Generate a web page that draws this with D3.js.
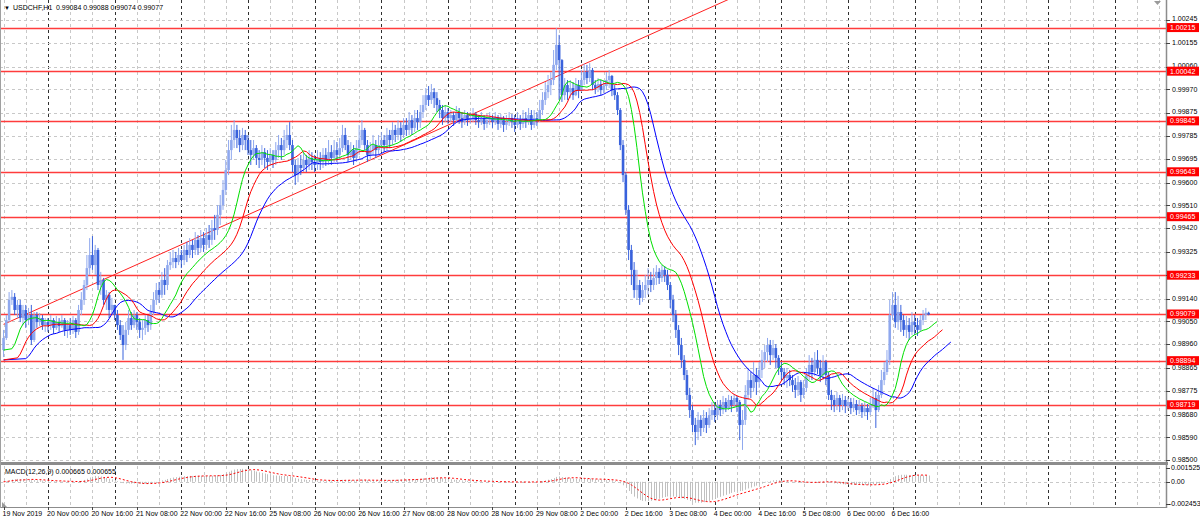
<!DOCTYPE html>
<html><head><meta charset="utf-8">
<script src="https://cdn.jsdelivr.net/npm/d3@7"></script>
<style>body{margin:0;background:#fff;} svg{display:block;font-family:"Liberation Sans",Arial,sans-serif;}</style>
</head><body><svg id="c" width="1200" height="523"></svg>
<script>
// ---- DATA (prices in units of 0.00001), hourly bars from 19 Nov 2019 08:00 to 9 Dec 05:00 ----
const symbolTitle = "USDCHF,H1";
const titleValues = "0.99084 0.99088 0.99074 0.99077";
const macdTitle = "MACD(12,26,9) 0.000665 0.000655";
const firstOpen = 98936;
const closes = [
98984,99055,99135,99147,99095,99115,99063,99095,99055,99075,98976,99075,99047,99063,99035,99047,
99035,99055,99024,99047,99031,99055,99016,99035,99016,99055,99008,99095,99135,99194,99261,99313,99273,99333,99194,99214,99135,99155,99095,99115,
99075,99035,98996,98956,99016,99063,99035,99075,99047,99016,99024,99055,99035,99087,99135,99174,99155,99214,99194,99273,99285,99301,99285,99313,
99293,99333,99313,99353,99333,99373,99341,99380,99353,99392,99373,99420,99412,99472,99511,99571,99650,99729,99769,99809,99777,99749,99789,99769,
99729,99710,99737,99698,99690,99721,99698,99682,99710,99690,99729,99749,99729,99769,99789,99749,99670,99630,99670,99658,99690,99670,99698,99682,
99670,99698,99682,99710,99690,99721,99698,99729,99710,99737,99789,99749,99710,99729,99698,99737,99769,99809,99749,99710,99729,99749,99729,99749,
99769,99749,99789,99769,99809,99789,99817,99789,99829,99809,99848,99817,99856,99840,99880,99908,99947,99928,99959,99935,99908,99888,99856,99880,
99856,99868,99848,99880,99856,99840,99868,99848,99856,99872,99848,99840,99856,99833,99848,99856,99840,99856,99833,99848,99829,99840,99856,99840,
99829,99848,99833,99856,99840,99868,99829,99856,99848,99888,99928,99959,99987,100007,100067,100146,100086,99947,99987,99959,99975,99947,99987,99967,
100007,100039,100015,100047,99987,99975,99991,99967,99983,100007,100023,99967,99947,99888,99749,99630,99492,99333,99254,99174,99194,99143,99174,99194,
99214,99194,99222,99246,99222,99254,99234,99194,99135,99075,99016,98956,98897,98837,98758,98698,98639,98611,98659,98627,98667,98639,98678,98698,
98678,98718,98698,98730,98706,98738,98718,98746,98730,98639,98659,98758,98817,98786,98837,98809,98857,98897,98928,98956,98916,98944,98905,98865,
98849,98825,98837,98817,98797,98778,98809,98758,98786,98837,98877,98849,98897,98865,98837,98889,98837,98758,98738,98718,98746,98718,98738,98714,
98730,98706,98722,98698,98714,98690,98706,98690,98718,98746,98698,98758,98817,98849,98897,99075,99115,99047,99087,99055,99016,99035,99008,99047,
99035,99016,99055,99075,99084,99077
];
const highs = [
99016,99075,99166,99174,99162,99135,99135,99115,99115,99103,99115,99087,99087,99083,99075,99063,
99063,99075,99063,99071,99063,99075,99063,99055,99063,99071,99063,99115,99166,99214,99313,99380,99388,99353,99341,99246,99222,99174,99166,99143,
99115,99095,99055,99035,99047,99095,99087,99095,99087,99063,99055,99075,99075,99115,99166,99202,99206,99246,99261,99293,99325,99333,99325,99341,
99333,99353,99365,99380,99373,99404,99392,99412,99404,99420,99432,99452,99472,99511,99551,99610,99690,99769,99829,99848,99829,99809,99817,99809,
99789,99769,99769,99749,99729,99749,99737,99729,99737,99729,99761,99789,99777,99809,99829,99840,99769,99690,99698,99710,99721,99710,99729,99721,
99710,99729,99721,99737,99737,99769,99749,99769,99761,99777,99829,99817,99769,99761,99749,99769,99829,99848,99817,99769,99761,99789,99769,99789,
99801,99789,99817,99809,99840,99829,99848,99840,99856,99856,99880,99868,99888,99888,99908,99947,99975,99983,99991,99975,99959,99928,99908,99908,
99896,99888,99880,99904,99896,99880,99888,99880,99880,99896,99880,99868,99880,99868,99872,99880,99868,99880,99868,99872,99864,99868,99880,99872,
99868,99880,99868,99888,99880,99896,99888,99888,99880,99928,99959,99999,100027,100039,100126,100213,100186,100090,100015,100007,100007,99999,100015,100007,
100047,100071,100067,100074,100055,100007,100015,100007,100007,100039,100047,100027,99987,99959,99896,99769,99642,99511,99353,99285,99254,99214,99206,99234,
99261,99246,99261,99273,99261,99273,99269,99254,99206,99155,99095,99035,98984,98916,98857,98786,98718,98667,98690,98678,98698,98690,98706,98730,
98730,98738,98738,98754,98746,98758,98754,98762,98754,98738,98698,98797,98865,98849,98889,98865,98889,98936,98956,98984,98976,98976,98960,98916,
98889,98865,98865,98857,98837,98825,98833,98817,98817,98865,98916,98905,98928,98936,98897,98916,98897,98849,98778,98758,98770,98758,98762,98754,
98750,98746,98746,98738,98738,98726,98730,98722,98746,98786,98770,98797,98857,98889,98936,99135,99166,99166,99151,99115,99075,99071,99063,99087,
99075,99063,99075,99095,99103,99088
];
const lows = [
98908,98976,99047,99115,99075,99063,99047,99035,99024,99035,98956,98968,99024,99031,99016,99008,
99008,99016,99000,99016,99008,99024,98992,98984,98996,99000,98984,98996,99075,99115,99174,99234,99254,99234,99174,99155,99115,99095,99063,99075,
99055,99016,98976,98897,98936,98996,99016,99024,99016,98984,98976,98996,99008,99016,99075,99115,99123,99143,99155,99174,99254,99261,99261,99273,
99261,99273,99285,99301,99301,99313,99313,99325,99325,99333,99341,99353,99373,99392,99432,99492,99551,99630,99690,99737,99737,99721,99729,99729,
99710,99670,99690,99670,99658,99670,99658,99650,99666,99658,99670,99698,99690,99710,99737,99729,99642,99591,99602,99630,99642,99642,99650,99650,
99642,99650,99650,99658,99666,99670,99670,99682,99682,99690,99721,99729,99682,99690,99670,99682,99710,99749,99729,99682,99690,99710,99698,99710,
99721,99721,99729,99737,99749,99761,99769,99761,99777,99785,99789,99789,99801,99809,99817,99856,99888,99904,99912,99896,99880,99856,99829,99840,
99833,99840,99825,99840,99833,99817,99829,99825,99833,99840,99829,99817,99829,99809,99817,99829,99817,99829,99809,99817,99801,99809,99825,99817,
99801,99817,99809,99817,99817,99829,99809,99817,99825,99840,99868,99908,99935,99947,99987,100047,99928,99920,99928,99928,99935,99928,99943,99935,
99959,99987,99991,99999,99967,99951,99959,99947,99955,99967,99975,99943,99928,99868,99729,99602,99472,99293,99194,99143,99135,99115,99127,99143,
99155,99166,99174,99194,99198,99206,99206,99174,99103,99047,98984,98916,98865,98817,98738,98667,98611,98559,98579,98595,98611,98607,98627,98659,
98651,98659,98674,98682,98690,98698,98690,98706,98690,98579,98540,98639,98738,98746,98770,98758,98786,98825,98865,98889,98877,98897,98865,98837,
98817,98797,98786,98793,98770,98746,98754,98730,98746,98770,98817,98817,98833,98841,98809,98817,98797,98738,98698,98690,98698,98690,98698,98686,
98698,98682,98690,98678,98682,98667,98674,98659,98678,98706,98627,98690,98746,98797,98837,98877,99055,99024,99016,99008,98992,98984,98976,98996,
98996,98992,99008,99035,99055,99074
];
const timeLabels = ["19 Nov 2019","20 Nov 00:00","20 Nov 16:00","21 Nov 08:00","22 Nov 00:00","22 Nov 16:00","25 Nov 08:00","26 Nov 00:00","26 Nov 16:00","27 Nov 08:00","28 Nov 00:00","28 Nov 16:00","29 Nov 08:00","2 Dec 00:00","2 Dec 16:00","3 Dec 08:00","4 Dec 00:00","4 Dec 16:00","5 Dec 08:00","6 Dec 00:00","6 Dec 16:00"];
const priceTicks = [0.98500,0.98590,0.98680,0.98775,0.98865,0.98960,0.99050,0.99140,0.99235,0.99325,0.99420,0.99510,0.99600,0.99695,0.99785,0.99875,0.99970,1.00060,1.00155,1.00245];
const levels = [1.00215,1.00042,0.99845,0.99643,0.99465,0.99233,0.99079,0.98894,0.98719];
const trendBars = [0, 258];
const trendPrices = [0.99038, 1.00312];
const macdTicks = [0.001525, 0.00, -0.002453];
const macdTickLabels = ["0.001525","0.00","-0.002453"];
// Alligator values at the left edge
const alligatorStart = {jaw: 0.98897, teeth: 0.98897, lips: 0.98936};

// ---- SETUP ----
const svg = d3.select('#c');
const PR = 1166, X0 = 3.55, DX = 2.778;
const n = closes.length;
const C = closes.map(v=>v/1e5), Hh = highs.map(v=>v/1e5), Ll = lows.map(v=>v/1e5);
const O = C.map((v,i)=> i===0 ? firstOpen/1e5 : C[i-1]);
const x = d3.scaleLinear().domain([0,1]).range([X0, X0+DX]);
const y = d3.scaleLinear().domain([0.985, 1.00245]).range([460, 20]);
const ym = d3.scaleLinear().domain([-0.002453, 0.001525]).range([504, 468]);

const defs = svg.append('defs');
defs.append('clipPath').attr('id','mainClip').append('rect').attr('x',0).attr('y',0).attr('width',PR).attr('height',461);
defs.append('clipPath').attr('id','macdClip').append('rect').attr('x',0).attr('y',466).attr('width',PR).attr('height',41);

// grid
const gGrid = svg.append('g');
const maxI = Math.floor((PR - X0)/DX);
for (let i=0; i<=maxI; i+=8) {
  const dark = ((i-16)%24===0);
  const xx = Math.round(x(i))+0.5;
  [[0,461],[466,507]].forEach(([a,b])=>{
    gGrid.append('line').attr('x1',xx).attr('x2',xx).attr('y1',a).attr('y2',b)
      .attr('stroke', dark ? '#303030' : '#c8c8c8').attr('stroke-dasharray','3,3').attr('stroke-width',1);
  });
}
priceTicks.forEach(p=>{
  const yy = Math.round(y(p))+0.5;
  gGrid.append('line').attr('x1',0).attr('x2',PR).attr('y1',yy).attr('y2',yy)
    .attr('stroke','#c8c8c8').attr('stroke-dasharray','3,3');
});
{
  const yy = Math.round(ym(0))+0.5;
  gGrid.append('line').attr('x1',0).attr('x2',PR).attr('y1',yy).attr('y2',yy)
    .attr('stroke','#c8c8c8').attr('stroke-dasharray','3,3');
}

// main pane
const gMain = svg.append('g').attr('clip-path','url(#mainClip)');
levels.forEach(p=>{
  const yy = Math.round(y(p))+0.5;
  gMain.append('line').attr('x1',0).attr('x2',PR).attr('y1',yy).attr('y2',yy)
    .attr('stroke','#ff3c3c').attr('stroke-width',1.3);
});
{
  const slope = (trendPrices[1]-trendPrices[0])/(trendBars[1]-trendBars[0]);
  const iEnd = maxI + 10;
  gMain.append('line').attr('x1',x(trendBars[0])).attr('y1',y(trendPrices[0]))
    .attr('x2',x(iEnd)).attr('y2',y(trendPrices[0]+slope*(iEnd-trendBars[0])))
    .attr('stroke','#ff2020').attr('stroke-width',1);
}
const bullCol = '#8fa8ee', bearCol = '#3962dc';
for (let i=0;i<n;i++){
  const o=O[i], c=C[i];
  const h=Math.max(Hh[i],o,c), l=Math.min(Ll[i],o,c);
  const col = c>=o ? bullCol : bearCol;
  const cx = x(i);
  gMain.append('line').attr('x1',cx).attr('x2',cx).attr('y1',y(h)).attr('y2',y(l)).attr('stroke',col).attr('stroke-width',1);
  const yt = y(Math.max(o,c)), yb = y(Math.min(o,c));
  gMain.append('rect').attr('x',cx-1.3).attr('width',2.6).attr('y',yt).attr('height',Math.max(1,yb-yt)).attr('fill',col);
}
function smmaLine(N, shift, start){
  const pts = [[0,start]];
  let s = start;
  for (let i=0;i<n;i++){
    const m = (Hh[i]+Ll[i])/2;
    s = (s*(N-1)+m)/N;
    pts.push([i+shift, s]);
  }
  return pts;
}
const line = d3.line().x(d=>x(d[0])).y(d=>y(d[1]));
[[13,8,alligatorStart.jaw,'#0000ff'],[8,5,alligatorStart.teeth,'#ff0000'],[5,3,alligatorStart.lips,'#00e000']].forEach(([N,sh,st,col])=>{
  gMain.append('path').attr('d',line(smmaLine(N,sh,st))).attr('fill','none').attr('stroke',col).attr('stroke-width',1);
});

// MACD
function ema(arr, N){ const a=2/(N+1); const out=[]; let e=arr[0]; arr.forEach((v,i)=>{ e = i===0? v : a*v+(1-a)*e; out.push(e);}); return out; }
const e12 = ema(C,12), e26 = ema(C,26);
const macd = e12.map((v,i)=>v-e26[i]);
const signal = macd.map((v,i)=>d3.mean(macd.slice(Math.max(0,i-8), i+1)));
const gM = svg.append('g').attr('clip-path','url(#macdClip)');
macd.forEach((v,i)=>{
  const xx = Math.round(x(i))+0.5;
  gM.append('line').attr('x1',xx).attr('x2',xx).attr('y1',ym(0)).attr('y2',ym(v)).attr('stroke','#c0c0c0').attr('stroke-width',1);
});
gM.append('path').attr('d', d3.line().x((d,i)=>x(i)).y(d=>ym(d))(signal))
  .attr('fill','none').attr('stroke','#ff0000').attr('stroke-dasharray','2,2').attr('stroke-width',1);

// frame
svg.append('rect').attr('x',0).attr('y',462).attr('width',PR+2).attr('height',3).attr('fill','#8c8c8c');
svg.append('line').attr('x1',PR+0.5).attr('x2',PR+0.5).attr('y1',0).attr('y2',508).attr('stroke','#8c8c8c').attr('stroke-width',1.5);
svg.append('line').attr('x1',0).attr('x2',PR+1).attr('y1',507.5).attr('y2',507.5).attr('stroke','#8c8c8c');
svg.append('line').attr('x1',0.5).attr('x2',0.5).attr('y1',0).attr('y2',508).attr('stroke','#a0a0a0');
svg.append('path').attr('d','M1154,1 L1161,1 L1157.5,5 Z').attr('fill','#9a9a9a');
svg.append('path').attr('d','M2,507 L2,502 L7,507 Z').attr('fill','#9a9a9a');

// right axis
const gAx = svg.append('g').attr('font-size',7).attr('fill','#000');
priceTicks.forEach(p=>{
  const yy = y(p);
  const covered = levels.some(l=>Math.abs(y(l)-yy)<3);
  gAx.append('line').attr('x1',PR).attr('x2',PR+4).attr('y1',Math.round(yy)+0.5).attr('y2',Math.round(yy)+0.5).attr('stroke','#444');
  if (!covered) {
    const lv = levels.find(l=>Math.abs(y(l)-yy)<9);
    gAx.append('text').attr('x',PR+6).attr('y',(lv!==undefined && y(lv)>yy) ? yy-1.5 : yy).attr('dy','0.35em').text(p.toFixed(5));
  }
});
macdTicks.forEach((p,k)=>{
  const yy = ym(p);
  gAx.append('line').attr('x1',PR).attr('x2',PR+4).attr('y1',Math.round(yy)+0.5).attr('y2',Math.round(yy)+0.5).attr('stroke','#444');
  gAx.append('text').attr('x',PR+(p<0?3:5)).attr('y',yy).attr('dy','0.35em').text(macdTickLabels[k]);
});
levels.forEach(p=>{
  const yy = y(p);
  gAx.append('rect').attr('x',PR+1).attr('y',yy-4.5).attr('width',32).attr('height',9).attr('fill','#ff0000');
  gAx.append('text').attr('x',PR+4).attr('y',yy).attr('dy','0.35em').attr('fill','#fff').text(p.toFixed(5));
});

// time axis
const gT = svg.append('g').attr('font-size',7).attr('fill','#000');
timeLabels.forEach((t,k)=>{
  const i = k*16, xx = x(i);
  gT.append('line').attr('x1',Math.round(xx)+0.5).attr('x2',Math.round(xx)+0.5).attr('y1',507).attr('y2',510).attr('stroke','#444');
  gT.append('text').attr('x',xx-1).attr('y',516).text(t);
});

// titles
svg.append('text').attr('x',4).attr('y',10).attr('font-size',6).text('▼');
svg.append('text').attr('x',13).attr('y',10).attr('font-size',7).text(symbolTitle);
svg.append('text').attr('x',56).attr('y',10).attr('font-size',7).text(titleValues);
svg.append('text').attr('x',5).attr('y',474).attr('font-size',7).text(macdTitle);
</script></body></html>
